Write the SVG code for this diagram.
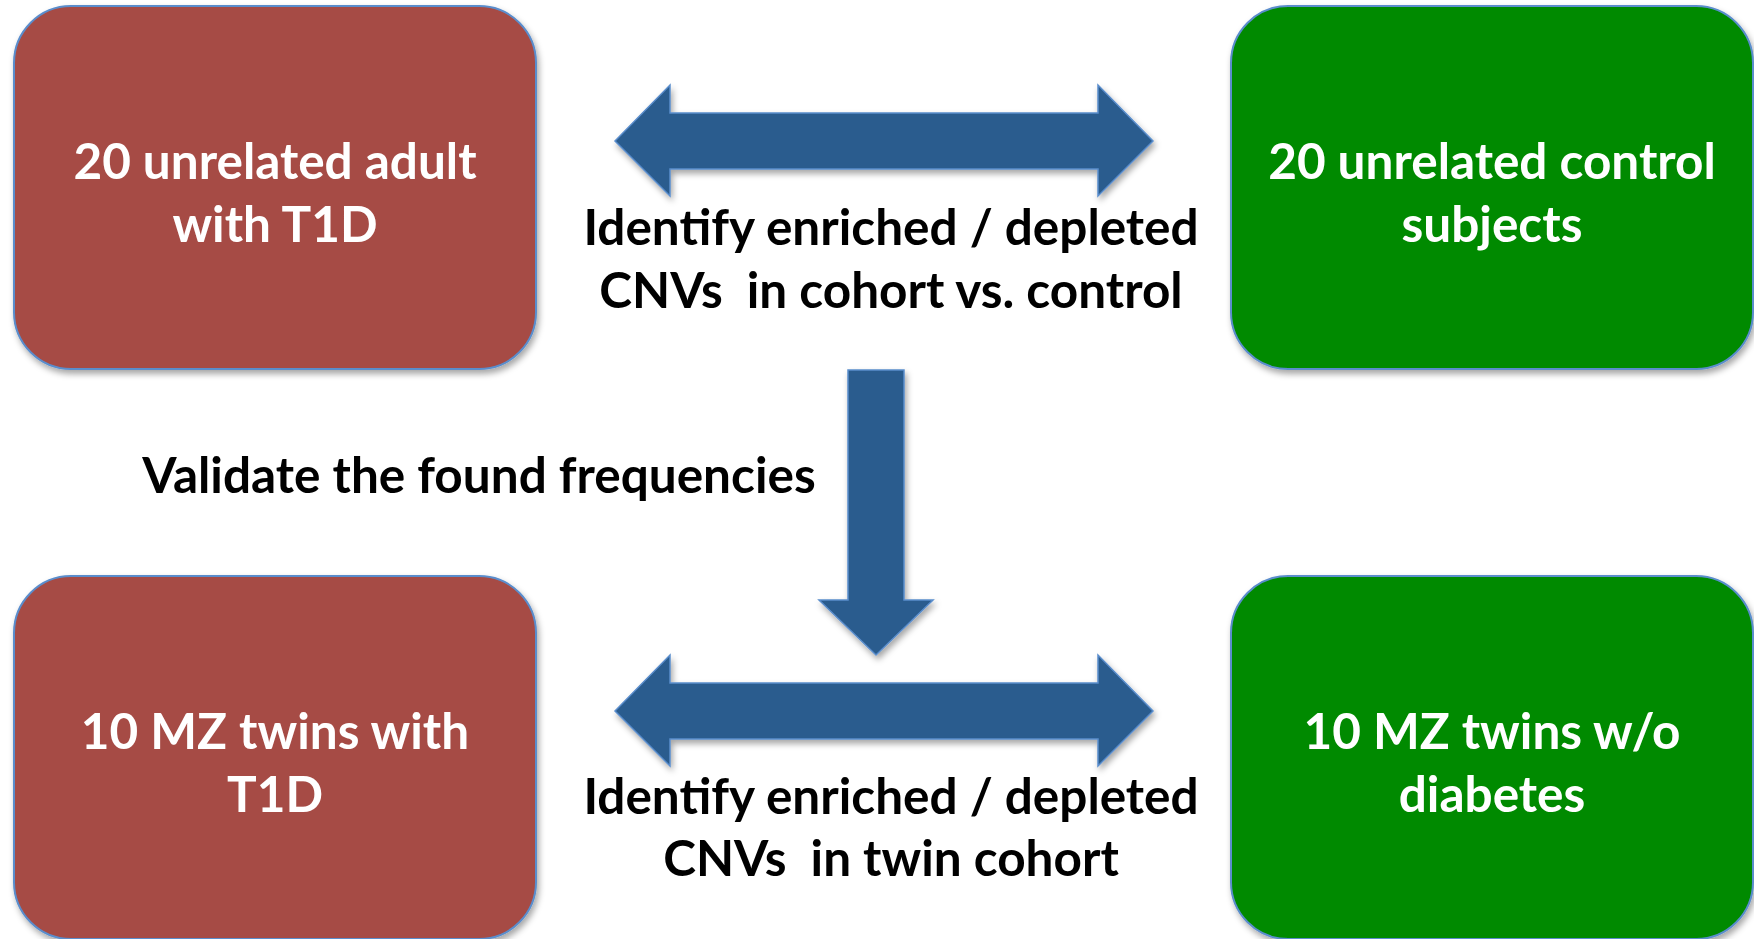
<svg xmlns="http://www.w3.org/2000/svg" width="1754" height="939" viewBox="0 0 1754 939">
<defs>
<filter id="sh" x="-10%" y="-10%" width="120%" height="125%">
<feDropShadow dx="2" dy="4" stdDeviation="3" flood-color="#000" flood-opacity="0.35"/>
</filter>
<style>
.box{stroke:#5a8dcc;stroke-width:2;filter:url(#sh)}
.red{fill:#a64b44}
.green{fill:#008a00}
.arrow{fill:#295c8e;stroke:#5a8dcc;stroke-width:1.5;stroke-linejoin:miter;filter:url(#sh)}
.wt{font-family:Lato,"Liberation Sans",sans-serif;font-weight:700;font-size:49.5px;fill:#fff;text-anchor:middle}
.bt{font-family:Lato,"Liberation Sans",sans-serif;font-weight:700;font-size:49.5px;fill:#000;text-anchor:middle;white-space:pre}
</style>
</defs>
<rect width="1754" height="939" fill="#fff"/>
<g id="connectors">
<path id="arrow-top" class="arrow" d="M615,141 L670,85 L670,113 L1098,113 L1098,85 L1153,141 L1098,196 L1098,169 L670,169 L670,196 Z"/>
<path id="arrow-down" class="arrow" d="M848,370 L904,370 L904,600 L933,600 L876,655 L819,600 L848,600 Z"/>
<path id="arrow-bottom" class="arrow" d="M615,711 L670,655 L670,683 L1098,683 L1098,655 L1153,711 L1098,766 L1098,739 L670,739 L670,766 Z"/>
<g id="label-top">
<text class="bt" x="891" y="245">Identify enriched / depleted</text>
<text class="bt" x="891" y="308" xml:space="preserve">CNVs  in cohort vs. control</text>
</g>
<g id="label-validate">
<text class="bt" x="479" y="493">Validate the found frequencies</text>
</g>
<g id="label-bottom">
<text class="bt" x="891" y="814">Identify enriched / depleted</text>
<text class="bt" x="891" y="876" xml:space="preserve">CNVs  in twin cohort</text>
</g>
</g>
<g id="node-t1d-adults">
<rect class="box red" x="14" y="6" width="522" height="363" rx="57" ry="57"/>
<text class="wt" x="275" y="179">20 unrelated adult</text>
<text class="wt" x="275" y="242">with T1D</text>
</g>
<g id="node-controls">
<rect class="box green" x="1231" y="6" width="522" height="363" rx="57" ry="57"/>
<text class="wt" x="1492" y="179">20 unrelated control</text>
<text class="wt" x="1492" y="242">subjects</text>
</g>
<g id="node-twins-t1d">
<rect class="box red" x="14" y="576" width="522" height="363" rx="57" ry="57"/>
<text class="wt" x="275" y="749">10 MZ twins with</text>
<text class="wt" x="275" y="812">T1D</text>
</g>
<g id="node-twins-no-diabetes">
<rect class="box green" x="1231" y="576" width="522" height="363" rx="57" ry="57"/>
<text class="wt" x="1492" y="749">10 MZ twins w/o</text>
<text class="wt" x="1492" y="812">diabetes</text>
</g>
</svg>
